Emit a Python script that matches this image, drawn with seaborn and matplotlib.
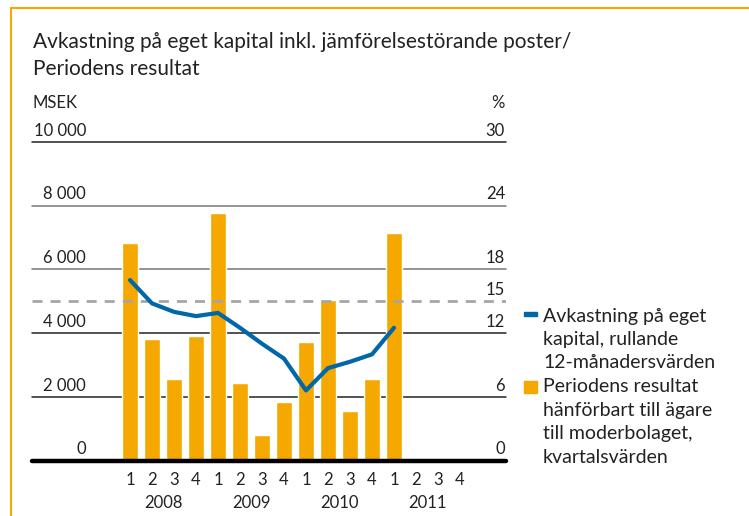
import numpy as np
import pandas as pd
import seaborn as sns
import matplotlib.pyplot as plt
from matplotlib.lines import Line2D
from matplotlib.patches import Rectangle

# data
years = ['2008', '2009', '2010', '2011']
quarters = ['1', '2', '3', '4']
resultat = [6820, 3800, 2570, 3900, 7760, 2440, 800, 1840,
            3730, 5050, 1560, 2570, 7130]          # MSEK per quarter
avkastning = [17.0, 14.8, 14.0, 13.6, 13.9, 12.5, 11.0, 9.6,
              6.6, 8.7, 9.3, 10.0, 12.5]            # %, rolling 12 months
left_ticks = [0, 2000, 4000, 6000, 8000, 10000]
left_labels = ['0', '2 000', '4 000', '6 000', '8 000', '10 000']
right_ticks = [0, 6, 12, 15, 18, 24, 30]
target = 15
leg_line = ['Avkastning på eget', 'kapital, rullande', '12-månadersvärden']
leg_bar = ['Periodens resultat', 'hänförbart till ägare',
           'till moderbolaget,', 'kvartalsvärden']

orange = '#f5a800'
blue = '#0067a8'
txt = '#222222'

sns.set_theme(style='white')
plt.rcParams['font.family'] = ['Lato', 'DejaVu Sans']

slots = [f'{y}-{q}' for y in years for q in quarters]
vals = resultat + [np.nan] * (len(slots) - len(resultat))
df = pd.DataFrame({'period': slots, 'msek': vals})

fig = plt.figure(figsize=(7.49, 5.16), dpi=100)
W, H = 749, 516
x0, x1, ytop, ybot = 32, 506, 142, 460.5
ax = fig.add_axes([x0 / W, 1 - ybot / H, (x1 - x0) / W, (ybot - ytop) / H])

sns.barplot(data=df, x='period', y='msek', order=slots, color=orange,
            saturation=1, width=0.73, ax=ax, zorder=2)
ax.set_ylim(0, 10000)
ax.set_xlim((x0 - 130) / 22, (x1 - 130) / 22)
for s in ax.spines.values():
    s.set_visible(False)
ax.set_xlabel('')
ax.set_ylabel('')
ax.set_yticks([])
ax.set_xticks(range(len(slots)))
ax.set_xticklabels([q for y in years for q in quarters], fontsize=12, color=txt)
ax.tick_params(axis='x', length=0, pad=8)

grid_col = {2000: '#222', 4000: '#222', 6000: '#777', 8000: '#777',
            10000: '#222'}
for t, lab in zip(left_ticks, left_labels):
    if t == 0:
        ax.axhline(0, color='black', lw=3.2, zorder=4, clip_on=False)
    else:
        ax.axhline(t, color=grid_col[t], lw=1.1, zorder=1, clip_on=False)
    ax.annotate(lab, xy=((86 - x0) / (x1 - x0), t),
                xycoords=('axes fraction', 'data'), xytext=(0, 4.5),
                textcoords='offset points', ha='right', va='baseline',
                fontsize=12, color=txt)

for i, y in enumerate(years):
    ax.text(i * 4 + 1.5, -(503 - ybot) / (ybot - ytop), y,
            transform=ax.get_xaxis_transform(),
            ha='center', va='center', fontsize=12, color=txt)

ax2 = ax.twinx()
ax2.set_ylim(0, 30)
for s in ax2.spines.values():
    s.set_visible(False)
ax2.set_yticks([])
ax2.axhline(target, color='#a6a6a6', lw=2, linestyle=(0, (3.6, 2.9)), zorder=1)
sns.lineplot(x=np.arange(len(avkastning)), y=avkastning, color=blue, lw=3,
             ax=ax2, zorder=5)
ax2.set_ylabel('')
for t in right_ticks:
    ax2.annotate(str(t), xy=((505 - x0) / (x1 - x0), t),
                 xycoords=('axes fraction', 'data'), xytext=(0, 4.5),
                 textcoords='offset points', ha='right', va='baseline',
                 fontsize=12, color=txt)

# titles
fig.text(33 / W, 1 - 48 / H,
         'Avkastning på eget kapital inkl. jämförelsestörande poster/',
         fontsize=15, color=txt, va='baseline', ha='left')
fig.text(33 / W, 1 - 75 / H, 'Periodens resultat', fontsize=15, color=txt,
         va='baseline', ha='left')
fig.text(33 / W, 1 - 108 / H, 'MSEK', fontsize=12, color=txt, va='baseline')
fig.text(505 / W, 1 - 108 / H, '%', fontsize=12, color=txt, va='baseline',
         ha='right')

# legend
fig.patches.append(Rectangle((524 / W, 1 - 316 / H), 13 / W, 4 / H,
                             transform=fig.transFigure, color=blue))
fig.patches.append(Rectangle((524 / W, 1 - 393 / H), 13 / W, 12 / H,
                             transform=fig.transFigure, color=orange))
for i, line in enumerate(leg_line):
    fig.text(543 / W, 1 - (322 + 23 * i) / H, line, fontsize=14, color=txt,
             va='baseline')
for i, line in enumerate(leg_bar):
    fig.text(543 / W, 1 - (392 + 23.7 * i) / H, line, fontsize=14, color=txt,
             va='baseline')

# orange frame
fig.add_artist(Line2D([11 / W, 1], [1 - 7.5 / H] * 2, color=orange, lw=1.5,
                      transform=fig.transFigure))
fig.add_artist(Line2D([11 / W] * 2, [0, 1 - 7.5 / H], color=orange, lw=1.5,
                      transform=fig.transFigure))

fig.savefig('out.png', dpi=100)
